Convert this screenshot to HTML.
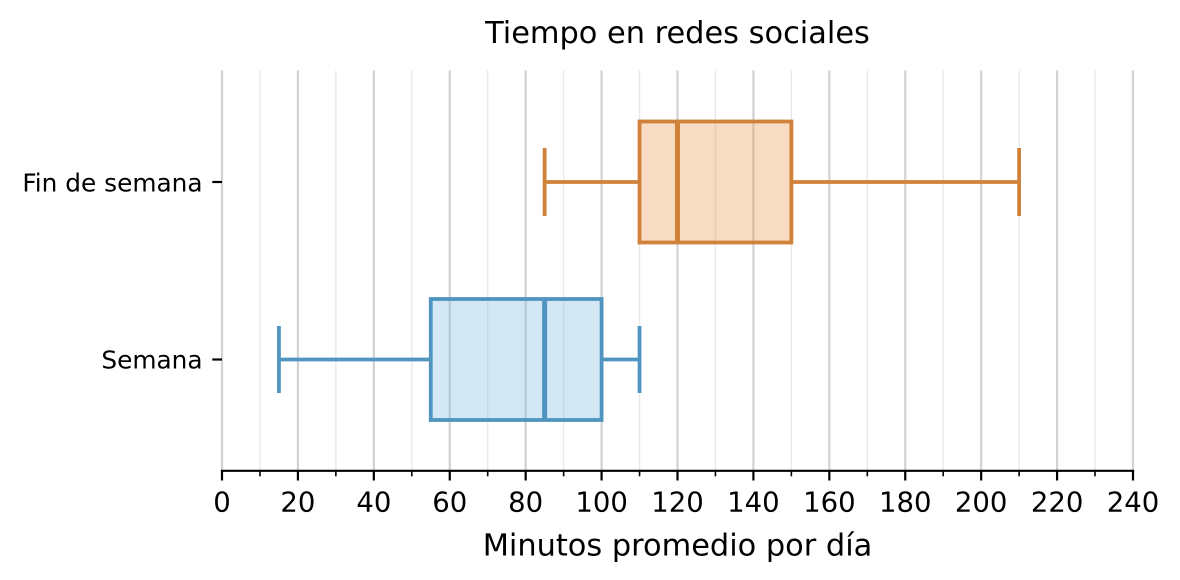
<!DOCTYPE html>
<html>
<head>
<meta charset="utf-8">
<style>
  html, body { margin: 0; padding: 0; background: #ffffff; }
  body { width: 1180px; height: 580px; overflow: hidden; }
  svg { display: block; }
  text { font-family: "DejaVu Sans", "Liberation Sans", sans-serif; fill: #000; }
</style>
</head>
<body>
<svg width="1180" height="580" viewBox="0 0 1180 580" xmlns="http://www.w3.org/2000/svg">
  <rect x="0" y="0" width="1180" height="580" fill="#ffffff"/>

  <!-- minor gridlines -->
  <g stroke="#e8e8e8" stroke-width="1.4">
    <line x1="259.96" y1="70.5" x2="259.96" y2="470"/>
    <line x1="335.87" y1="70.5" x2="335.87" y2="470"/>
    <line x1="411.79" y1="70.5" x2="411.79" y2="470"/>
    <line x1="487.71" y1="70.5" x2="487.71" y2="470"/>
    <line x1="563.62" y1="70.5" x2="563.62" y2="470"/>
    <line x1="639.54" y1="70.5" x2="639.54" y2="470"/>
    <line x1="715.45" y1="70.5" x2="715.45" y2="470"/>
    <line x1="791.37" y1="70.5" x2="791.37" y2="470"/>
    <line x1="867.29" y1="70.5" x2="867.29" y2="470"/>
    <line x1="943.2" y1="70.5" x2="943.2" y2="470"/>
    <line x1="1019.12" y1="70.5" x2="1019.12" y2="470"/>
    <line x1="1095.03" y1="70.5" x2="1095.03" y2="470"/>
  </g>
  <!-- major gridlines -->
  <g stroke="#d2d2d2" stroke-width="2.2">
    <line x1="222" y1="70.5" x2="222" y2="470"/>
    <line x1="297.92" y1="70.5" x2="297.92" y2="470"/>
    <line x1="373.83" y1="70.5" x2="373.83" y2="470"/>
    <line x1="449.75" y1="70.5" x2="449.75" y2="470"/>
    <line x1="525.66" y1="70.5" x2="525.66" y2="470"/>
    <line x1="601.58" y1="70.5" x2="601.58" y2="470"/>
    <line x1="677.5" y1="70.5" x2="677.5" y2="470"/>
    <line x1="753.41" y1="70.5" x2="753.41" y2="470"/>
    <line x1="829.33" y1="70.5" x2="829.33" y2="470"/>
    <line x1="905.24" y1="70.5" x2="905.24" y2="470"/>
    <line x1="981.16" y1="70.5" x2="981.16" y2="470"/>
    <line x1="1057.08" y1="70.5" x2="1057.08" y2="470"/>
    <line x1="1133" y1="70.5" x2="1133" y2="470"/>
  </g>

  <!-- Fin de semana (orange) -->
  <g stroke="#d0813a" stroke-width="3.8" fill="none">
    <line x1="544.64" y1="182" x2="639.54" y2="182"/>
    <line x1="791.37" y1="182" x2="1019.12" y2="182"/>
    <line x1="544.64" y1="148" x2="544.64" y2="216"/>
    <line x1="1019.12" y1="148" x2="1019.12" y2="216"/>
    <rect x="639.54" y="121.5" width="151.83" height="121" fill="rgb(232,152,81)" fill-opacity="0.35"/>
    <line x1="677.5" y1="121.5" x2="677.5" y2="242.5" stroke-width="5"/>
  </g>

  <!-- Semana (blue) -->
  <g stroke="#4f95c0" stroke-width="3.8" fill="none">
    <line x1="278.94" y1="359.5" x2="430.77" y2="359.5"/>
    <line x1="601.58" y1="359.5" x2="639.54" y2="359.5"/>
    <line x1="278.94" y1="326" x2="278.94" y2="393"/>
    <line x1="639.54" y1="326" x2="639.54" y2="393"/>
    <rect x="430.77" y="299" width="170.81" height="121" fill="rgb(129,189,224)" fill-opacity="0.35"/>
    <line x1="544.64" y1="299" x2="544.64" y2="420" stroke-width="5"/>
  </g>

  <!-- x axis spine -->
  <line x1="220.9" y1="470.8" x2="1134.1" y2="470.8" stroke="#000" stroke-width="2.2"/>
  <!-- major ticks -->
  <g stroke="#000" stroke-width="2.2">
    <line x1="222" y1="470" x2="222" y2="480.5"/>
    <line x1="297.92" y1="470" x2="297.92" y2="480.5"/>
    <line x1="373.83" y1="470" x2="373.83" y2="480.5"/>
    <line x1="449.75" y1="470" x2="449.75" y2="480.5"/>
    <line x1="525.66" y1="470" x2="525.66" y2="480.5"/>
    <line x1="601.58" y1="470" x2="601.58" y2="480.5"/>
    <line x1="677.5" y1="470" x2="677.5" y2="480.5"/>
    <line x1="753.41" y1="470" x2="753.41" y2="480.5"/>
    <line x1="829.33" y1="470" x2="829.33" y2="480.5"/>
    <line x1="905.24" y1="470" x2="905.24" y2="480.5"/>
    <line x1="981.16" y1="470" x2="981.16" y2="480.5"/>
    <line x1="1057.08" y1="470" x2="1057.08" y2="480.5"/>
    <line x1="1133" y1="470" x2="1133" y2="480.5"/>
  </g>
  <!-- minor ticks -->
  <g stroke="#000" stroke-width="1.6">
    <line x1="259.96" y1="470" x2="259.96" y2="476.3"/>
    <line x1="335.87" y1="470" x2="335.87" y2="476.3"/>
    <line x1="411.79" y1="470" x2="411.79" y2="476.3"/>
    <line x1="487.71" y1="470" x2="487.71" y2="476.3"/>
    <line x1="563.62" y1="470" x2="563.62" y2="476.3"/>
    <line x1="639.54" y1="470" x2="639.54" y2="476.3"/>
    <line x1="715.45" y1="470" x2="715.45" y2="476.3"/>
    <line x1="791.37" y1="470" x2="791.37" y2="476.3"/>
    <line x1="867.29" y1="470" x2="867.29" y2="476.3"/>
    <line x1="943.2" y1="470" x2="943.2" y2="476.3"/>
    <line x1="1019.12" y1="470" x2="1019.12" y2="476.3"/>
    <line x1="1095.03" y1="470" x2="1095.03" y2="476.3"/>
  </g>

  <!-- y ticks -->
  <g stroke="#000" stroke-width="2.2">
    <line x1="212.3" y1="182" x2="222" y2="182"/>
    <line x1="212.3" y1="359.5" x2="222" y2="359.5"/>
  </g>

  <!-- x tick labels -->
  <g font-size="27.5" text-anchor="middle">
    <text x="222" y="511.5">0</text>
    <text x="297.92" y="511.5">20</text>
    <text x="373.83" y="511.5">40</text>
    <text x="449.75" y="511.5">60</text>
    <text x="525.66" y="511.5">80</text>
    <text x="601.58" y="511.5">100</text>
    <text x="677.5" y="511.5">120</text>
    <text x="753.41" y="511.5">140</text>
    <text x="829.33" y="511.5">160</text>
    <text x="905.24" y="511.5">180</text>
    <text x="981.16" y="511.5">200</text>
    <text x="1057.08" y="511.5">220</text>
    <text x="1133" y="511.5">240</text>
  </g>

  <!-- y tick labels -->
  <g font-size="24.8" text-anchor="end">
    <text x="202.6" y="191.3">Fin de semana</text>
    <text x="202.6" y="368.5">Semana</text>
  </g>

  <!-- axis label -->
  <text x="677.5" y="555.5" font-size="30.4" text-anchor="middle">Minutos promedio por día</text>

  <!-- title -->
  <text x="677.5" y="43" font-size="30.4" text-anchor="middle">Tiempo en redes sociales</text>
</svg>
</body>
</html>
